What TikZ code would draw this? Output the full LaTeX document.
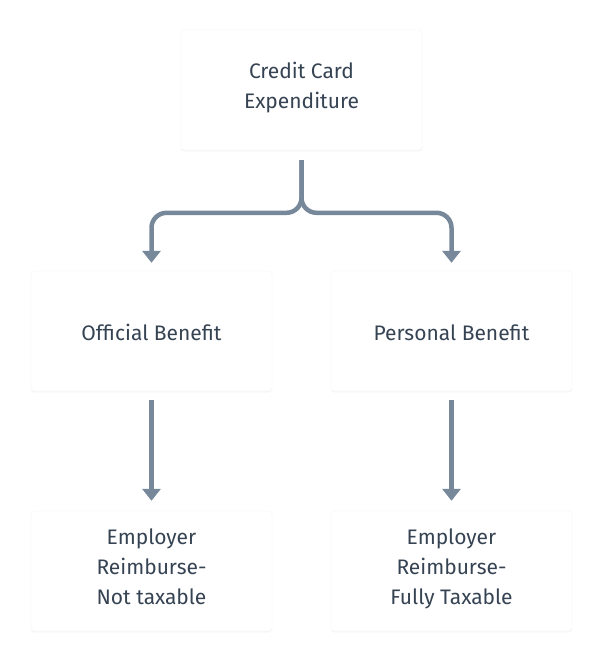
\documentclass[tikz,border=0pt]{standalone}
\usepackage{fontspec}
\setmainfont{Fira Sans}
\usetikzlibrary{positioning, arrows.meta, shadows}
\definecolor{linkgray}{HTML}{76889A}
\definecolor{textslate}{HTML}{354353}

\begin{document}
\begin{tikzpicture}[x=1pt, y=-1pt]
			\tikzstyle{every node}=[fill=white, draw=black!4, rounded corners=3pt, minimum width=241pt, minimum height=120pt, align=center, text=textslate, font=\fontsize{21}{30}\selectfont, execute at begin node={\vrule width 0pt height 27pt\relax}, execute at end node=\strut, drop shadow={opacity=0.06, shadow xshift=0pt, shadow yshift=-1.5pt}];
			\tikzstyle{conn}=[draw=linkgray, line width=4.5pt, rounded corners=15pt, -{Triangle[width=18pt, length=12pt]}];
			\useasboundingbox[fill=white] (0,0) rectangle (602,662);
			\node (cce) at (301.5,90) {Credit Card\\Expenditure};
			\node (off) at (151.5,331) {Official Benefit};
			\node (per) at (451.5,331) {Personal Benefit};
			\node (offemp) at (151.5,571) {Employer\\Reimburse-\\Not taxable};
			\node (peremp) at (451.5,571) {Employer\\Reimburse-\\Fully Taxable};
			\draw[conn] ([yshift=-10pt]cce.south) |- ([yshift=58pt]off.north) -- ([yshift=8pt]off.north);
			\draw[conn] ([yshift=-10pt]cce.south) |- ([yshift=58pt]per.north) -- ([yshift=8pt]per.north);
			\draw[conn] ([yshift=-9pt]off.south) -- ([yshift=10pt]offemp.north);
			\draw[conn] ([yshift=-9pt]per.south) -- ([yshift=10pt]peremp.north);
		\end{tikzpicture}
\end{document}
